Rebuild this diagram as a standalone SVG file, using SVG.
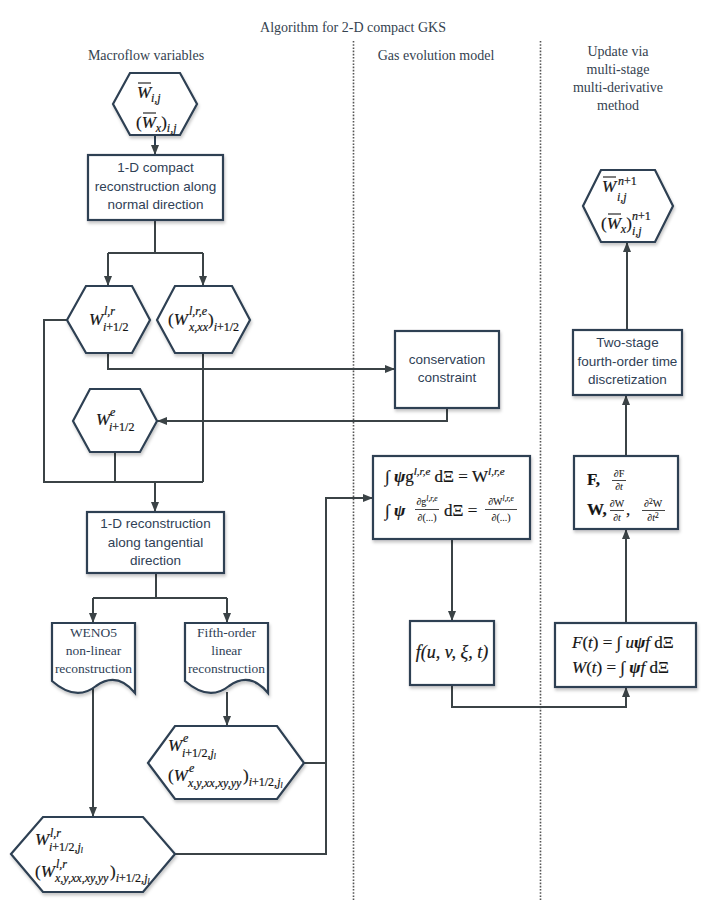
<svg xmlns="http://www.w3.org/2000/svg" width="706" height="913" viewBox="0 0 706 913">
<style>
.hd{font-family:"Liberation Serif",serif;font-size:14px;fill:#34424f;text-anchor:middle}
.bx{fill:#fff;stroke:#2d3f52;stroke-width:2.2}
.bt{font-family:"Liberation Sans",Arial,sans-serif;font-size:13.5px;fill:#2f4156;text-anchor:middle}
.dt{font-family:"Liberation Serif",serif;font-size:13.5px;fill:#2f4156;text-anchor:middle}
.m{font-family:"Liberation Serif",serif;font-size:17px;fill:#151515;stroke:#151515;stroke-width:0.2}
.it{font-style:italic}
.bi{font-style:italic;font-weight:bold}
.b{font-weight:bold}
.s{font-size:12px}
.ss{font-size:11px}
.f{font-size:10px;stroke-width:0.1}
.fs{font-size:7.5px}
.ob{stroke:#151515;stroke-width:1.1}
.cn{fill:none;stroke:#3b4346;stroke-width:2}
.dot{stroke:#555;stroke-width:1.6;stroke-dasharray:1.6 1.6;fill:none}
</style>
<defs>
<filter id="sh" x="-15%" y="-15%" width="135%" height="145%">
<feDropShadow dx="1" dy="2.5" stdDeviation="1.6" flood-color="#000" flood-opacity="0.22"/>
</filter>
<marker id="ah" viewBox="0 0 10 8" refX="10" refY="4" markerWidth="10" markerHeight="8" markerUnits="userSpaceOnUse" orient="auto">
<path d="M0,0 L10,4 L0,8 z" fill="#3b4346"/>
</marker>
</defs>
<rect width="706" height="913" fill="#fff"/>

<g id="headers">
<text class="hd" x="353" y="32">Algorithm for 2-D compact GKS</text>
<text class="hd" x="146" y="60">Macroflow variables</text>
<text class="hd" x="436" y="60">Gas evolution model</text>
<text class="hd" x="618" y="56">Update via</text>
<text class="hd" x="618" y="74">multi-stage</text>
<text class="hd" x="618" y="92">multi-derivative</text>
<text class="hd" x="618" y="110">method</text>
</g>

<g id="dividers">
<line class="dot" x1="353.5" y1="41" x2="353.5" y2="900"/>
<line class="dot" x1="540.5" y1="41" x2="540.5" y2="900"/>
</g>

<g id="connectors">
<line class="cn" x1="155" y1="135" x2="155" y2="155" marker-end="url(#ah)" style="stroke:#2d3f52"/>
<polyline class="cn" points="155,220 155,253"/>
<polyline class="cn" points="108,253 203,253"/>
<line class="cn" x1="108" y1="253" x2="108" y2="286" marker-end="url(#ah)"/>
<line class="cn" x1="203" y1="253" x2="203" y2="286" marker-end="url(#ah)"/>
<polyline class="cn" points="108,353 108,369 395,369" marker-end="url(#ah)"/>
<polyline class="cn" points="447,408 447,421 157,421" marker-end="url(#ah)"/>
<polyline class="cn" points="67,320 44,320 44,482 203,482"/>
<line class="cn" x1="203" y1="353" x2="203" y2="482"/>
<line class="cn" x1="115" y1="452" x2="115" y2="482"/>
<line class="cn" x1="155" y1="482" x2="155" y2="512" marker-end="url(#ah)"/>
<polyline class="cn" points="156,573 156,598"/>
<polyline class="cn" points="93,598 227,598"/>
<line class="cn" x1="93" y1="598" x2="93" y2="623" marker-end="url(#ah)"/>
<line class="cn" x1="227" y1="598" x2="227" y2="623" marker-end="url(#ah)"/>
<line class="cn" x1="93" y1="688" x2="93" y2="817" marker-end="url(#ah)"/>
<line class="cn" x1="227" y1="692" x2="227" y2="726" marker-end="url(#ah)"/>
<polyline class="cn" points="304,763 326,763"/>
<polyline class="cn" points="175,854 326,854 326,498 373,498" marker-end="url(#ah)"/>
<line class="cn" x1="452" y1="539" x2="452" y2="621" marker-end="url(#ah)"/>
<polyline class="cn" points="452,685 452,707 626,707 626,687" marker-end="url(#ah)"/>
<line class="cn" x1="626" y1="623" x2="626" y2="529" marker-end="url(#ah)"/>
<line class="cn" x1="626" y1="456" x2="626" y2="395" marker-end="url(#ah)"/>
<line class="cn" x1="627" y1="330" x2="627" y2="242" marker-end="url(#ah)"/>
</g>

<g id="n-wij">
<polygon class="bx" points="113,104 130,73 180,73 197,104 180,135 130,135" filter="url(#sh)"/>
<text class="m"><tspan class="it" x="137" y="98">W</tspan><tspan class="s it" x="151" y="102">i,j</tspan></text>
<line class="ob" x1="138" y1="83" x2="151" y2="83"/>
<text class="m" x="136" y="128">(<tspan class="it">W</tspan><tspan class="s it" dy="4">x</tspan><tspan dy="-4">)</tspan><tspan class="s it" dy="4">i,j</tspan></text>
<line class="ob" x1="143" y1="113" x2="156" y2="113"/>
</g>

<g id="n-compact">
<rect class="bx" x="88" y="155" width="135" height="65" filter="url(#sh)"/>
<text class="bt" x="155.5" y="172">1-D compact</text>
<text class="bt" x="155.5" y="191">reconstruction along</text>
<text class="bt" x="155.5" y="209">normal direction</text>
</g>

<g id="n-wlr">
<polygon class="bx" points="67,320 86,286 132,286 150,320 132,353 86,353" filter="url(#sh)"/>
<text class="m"><tspan class="it" x="89" y="325">W</tspan><tspan class="s it" x="104" y="315">l,r</tspan><tspan class="s" x="103" y="331"><tspan class="it">i</tspan>+1/2</tspan></text>
</g>

<g id="n-wlre">
<polygon class="bx" points="157,320 175,286 232,286 250,320 232,353 175,353" filter="url(#sh)"/>
<text class="m"><tspan x="168" y="325">(</tspan><tspan class="it">W</tspan><tspan class="s it" x="189" y="315">l,r,e</tspan><tspan class="s it" x="189" y="331">x,xx</tspan><tspan x="208" y="325">)</tspan><tspan class="s" y="331"><tspan class="it">i</tspan>+1/2</tspan></text>
</g>

<g id="n-cons">
<rect class="bx" x="395" y="331" width="104" height="77" filter="url(#sh)"/>
<text class="bt" x="447" y="364">conservation</text>
<text class="bt" x="447" y="382">constraint</text>
</g>

<g id="n-we">
<polygon class="bx" points="73,421 90,389 140,389 157,421 140,452 90,452" filter="url(#sh)"/>
<text class="m"><tspan class="it" x="96" y="425">W</tspan><tspan class="s it" x="110" y="416">e</tspan><tspan class="s" x="109" y="431"><tspan class="it">i</tspan>+1/2</tspan></text>
</g>

<g id="n-tangential">
<rect class="bx" x="87" y="512" width="137" height="61" filter="url(#sh)"/>
<text class="bt" x="155.5" y="528">1-D reconstruction</text>
<text class="bt" x="155.5" y="547">along tangential</text>
<text class="bt" x="155.5" y="565">direction</text>
</g>

<g id="n-weno">
<path class="bx" d="M52,623 H135 V693 Q117,671 96,686 Q76,702 52,681 Z" filter="url(#sh)"/>
<text class="dt" x="93.5" y="637">WENO5</text>
<text class="dt" x="93.5" y="655">non-linear</text>
<text class="dt" x="93.5" y="673">reconstruction</text>
</g>

<g id="n-fifth">
<path class="bx" d="M185,623 H268 V693 Q250,671 229,686 Q209,702 185,681 Z" filter="url(#sh)"/>
<text class="dt" x="226.5" y="637">Fifth-order</text>
<text class="dt" x="226.5" y="655">linear</text>
<text class="dt" x="226.5" y="673">reconstruction</text>
</g>

<g id="n-wej">
<polygon class="bx" points="148,763 175,726 277,726 304,763 277,799 175,799" filter="url(#sh)"/>
<text class="m"><tspan class="it" x="168" y="751">W</tspan><tspan class="s it" x="183" y="742">e</tspan><tspan class="s" x="182" y="757"><tspan class="it">i</tspan>+1/2,<tspan class="it">j</tspan><tspan class="fs it" dy="2">l</tspan></tspan></text>
<text class="m"><tspan x="168" y="781">(</tspan><tspan class="it">W</tspan><tspan class="s it" x="189" y="772">e</tspan><tspan class="s it" x="188" y="787">x,y,xx,xy,yy</tspan><tspan x="243" y="781">)</tspan><tspan class="s" y="786"><tspan class="it">i</tspan>+1/2,<tspan class="it">j</tspan><tspan class="fs it" dy="2">l</tspan></tspan></text>
</g>

<g id="n-wlrj">
<polygon class="bx" points="11,854 43,817 143,817 175,854 143,892 43,892" filter="url(#sh)"/>
<text class="m"><tspan class="it" x="35" y="845">W</tspan><tspan class="s it" x="50" y="837">l,r</tspan><tspan class="s" x="49" y="851"><tspan class="it">i</tspan>+1/2,<tspan class="it">j</tspan><tspan class="fs it" dy="2">l</tspan></tspan></text>
<text class="m"><tspan x="35" y="877">(</tspan><tspan class="it">W</tspan><tspan class="s it" x="56" y="868">l,r</tspan><tspan class="s it" x="55" y="882">x,y,xx,xy,yy</tspan><tspan x="110" y="877">)</tspan><tspan class="s" y="882"><tspan class="it">i</tspan>+1/2,<tspan class="it">j</tspan><tspan class="fs it" dy="2">l</tspan></tspan></text>
</g>

<g id="n-integral">
<rect class="bx" x="373" y="456" width="157" height="83" filter="url(#sh)"/>
<text class="m" x="385" y="482">∫ <tspan class="bi">ψ</tspan>g<tspan class="ss it" dy="-7">l,r,e</tspan><tspan dy="7"> dΞ = W</tspan><tspan class="ss it" dy="-7">l,r,e</tspan></text>
<text class="m" x="385" y="516">∫ <tspan class="bi">ψ</tspan></text>
<text class="m f" x="427" y="505" text-anchor="middle">∂g<tspan class="fs it" dy="-4">l,r,e</tspan></text>
<line class="ob" x1="415" y1="509.5" x2="439" y2="509.5" style="stroke-width:0.8"/>
<text class="m f" x="427" y="521" text-anchor="middle">∂(...)</text>
<text class="m" x="444" y="516">dΞ =</text>
<text class="m f" x="501" y="505" text-anchor="middle">∂W<tspan class="fs it" dy="-4">l,r,e</tspan></text>
<line class="ob" x1="485" y1="509.5" x2="517" y2="509.5" style="stroke-width:0.8"/>
<text class="m f" x="501" y="521" text-anchor="middle">∂(...)</text>
</g>

<g id="n-f">
<rect class="bx" x="410" y="621" width="84" height="64" filter="url(#sh)"/>
<text class="m it" x="452" y="658" text-anchor="middle" style="font-size:18px">f(u, v, ξ, t)</text>
</g>

<g id="n-Ft">
<rect class="bx" x="555" y="623" width="141" height="64" filter="url(#sh)"/>
<text class="m" x="572" y="648"><tspan class="it">F</tspan>(<tspan class="it">t</tspan>) = ∫ <tspan class="it">u</tspan><tspan class="bi">ψ</tspan><tspan class="it">f</tspan> dΞ</text>
<text class="m" x="572" y="673"><tspan class="it">W</tspan>(<tspan class="it">t</tspan>) = ∫ <tspan class="bi">ψ</tspan><tspan class="it">f</tspan> dΞ</text>
</g>

<g id="n-FW">
<rect class="bx" x="574" y="456" width="104" height="73" filter="url(#sh)"/>
<text class="m b" x="587" y="485">F,</text>
<text class="m f" x="619" y="477" text-anchor="middle">∂F</text>
<line class="ob" x1="612" y1="480.5" x2="626" y2="480.5" style="stroke-width:0.8"/>
<text class="m f" x="619" y="490" text-anchor="middle">∂<tspan class="it">t</tspan></text>
<text class="m b" x="587" y="515">W,</text>
<text class="m f" x="617" y="507" text-anchor="middle">∂W</text>
<line class="ob" x1="610" y1="510.5" x2="624" y2="510.5" style="stroke-width:0.8"/>
<text class="m f" x="617" y="521" text-anchor="middle">∂<tspan class="it">t</tspan></text>
<text class="m" x="626" y="515">,</text>
<text class="m f" x="653" y="507" text-anchor="middle">∂<tspan class="fs" dy="-3">2</tspan><tspan dy="3">W</tspan></text>
<line class="ob" x1="642" y1="510.5" x2="665" y2="510.5" style="stroke-width:0.8"/>
<text class="m f" x="653" y="521" text-anchor="middle">∂<tspan class="it">t</tspan><tspan class="fs" dy="-3">2</tspan></text>
</g>

<g id="n-twostage">
<rect class="bx" x="573" y="330" width="109" height="65" filter="url(#sh)"/>
<text class="bt" x="627.5" y="347">Two-stage</text>
<text class="bt" x="627.5" y="366">fourth-order time</text>
<text class="bt" x="627.5" y="384">discretization</text>
</g>

<g id="n-wnew">
<polygon class="bx" points="583,206 601,170 655,170 673,206 655,242 601,242" filter="url(#sh)"/>
<text class="m"><tspan class="it" x="602" y="192">W</tspan><tspan class="s" x="618" y="185"><tspan class="it">n</tspan>+1</tspan><tspan class="s it" x="617" y="201">i,j</tspan></text>
<line class="ob" x1="603" y1="177" x2="616" y2="177"/>
<text class="m"><tspan x="601" y="229">(</tspan><tspan class="it">W</tspan><tspan class="s it" dy="4">x</tspan><tspan dy="-4">)</tspan><tspan class="s" x="632" y="220"><tspan class="it">n</tspan>+1</tspan><tspan class="s it" x="632" y="235">i,j</tspan></text>
<line class="ob" x1="608" y1="214" x2="621" y2="214"/>
</g>
</svg>
